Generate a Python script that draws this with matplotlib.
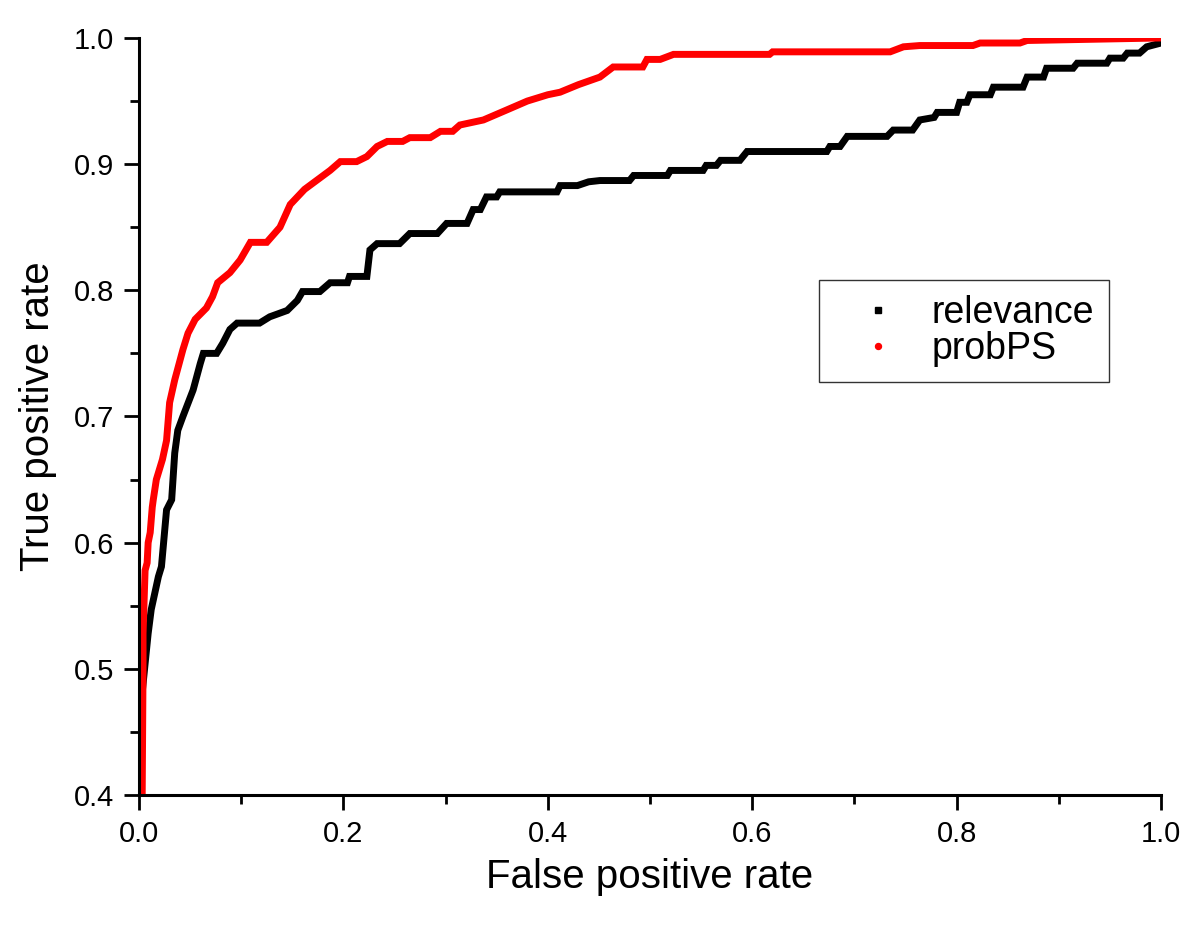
import matplotlib
matplotlib.use("Agg")
import matplotlib.pyplot as plt
from matplotlib.lines import Line2D
from matplotlib.ticker import MultipleLocator, FormatStrFormatter

plt.rcParams['font.family'] = ['Liberation Sans', 'DejaVu Sans']

# ROC points (false positive rate, true positive rate)
relevance_fpr = [0.000, 0.003, 0.008, 0.009, 0.012, 0.019, 0.022, 0.027, 0.032,
                 0.035, 0.038, 0.043, 0.053, 0.060, 0.063, 0.076, 0.082, 0.089,
                 0.096, 0.118, 0.128, 0.145, 0.155, 0.160, 0.177, 0.187, 0.204,
                 0.206, 0.223, 0.226, 0.233, 0.255, 0.265, 0.292, 0.301, 0.321,
                 0.327, 0.334, 0.340, 0.350, 0.353, 0.409, 0.412, 0.429, 0.440,
                 0.451, 0.480, 0.484, 0.517, 0.520, 0.552, 0.555, 0.565, 0.569,
                 0.588, 0.595, 0.673, 0.676, 0.686, 0.693, 0.732, 0.738, 0.757,
                 0.764, 0.778, 0.781, 0.800, 0.803, 0.810, 0.813, 0.833, 0.836,
                 0.865, 0.869, 0.885, 0.888, 0.914, 0.918, 0.947, 0.950, 0.963,
                 0.967, 0.979, 0.986, 1.000]
relevance_tpr = [0.400, 0.480, 0.520, 0.528, 0.547, 0.573, 0.581, 0.626, 0.634,
                 0.671, 0.689, 0.700, 0.721, 0.742, 0.750, 0.750, 0.758, 0.769,
                 0.774, 0.774, 0.779, 0.784, 0.792, 0.799, 0.799, 0.806, 0.806,
                 0.811, 0.811, 0.832, 0.837, 0.837, 0.845, 0.845, 0.853, 0.853,
                 0.864, 0.864, 0.874, 0.874, 0.878, 0.878, 0.883, 0.883, 0.886,
                 0.887, 0.887, 0.891, 0.891, 0.895, 0.895, 0.899, 0.899, 0.903,
                 0.903, 0.910, 0.910, 0.914, 0.914, 0.922, 0.922, 0.927, 0.927,
                 0.935, 0.937, 0.941, 0.941, 0.949, 0.949, 0.955, 0.955, 0.961,
                 0.961, 0.969, 0.969, 0.976, 0.976, 0.980, 0.980, 0.984, 0.984,
                 0.988, 0.988, 0.993, 0.996]

probps_fpr = [0.003, 0.004, 0.004, 0.006, 0.008, 0.009, 0.011, 0.013, 0.014,
              0.017, 0.023, 0.027, 0.030, 0.035, 0.043, 0.048, 0.055, 0.066,
              0.072, 0.077, 0.089, 0.099, 0.109, 0.125, 0.138, 0.148, 0.162,
              0.177, 0.187, 0.197, 0.213, 0.223, 0.233, 0.243, 0.258, 0.265,
              0.285, 0.295, 0.307, 0.314, 0.337, 0.360, 0.380, 0.400, 0.412,
              0.430, 0.451, 0.464, 0.493, 0.497, 0.510, 0.523, 0.617, 0.620,
              0.735, 0.748, 0.764, 0.816, 0.823, 0.862, 0.869, 1.000]
probps_tpr = [0.380, 0.501, 0.528, 0.578, 0.584, 0.600, 0.608, 0.628, 0.634,
              0.650, 0.666, 0.681, 0.711, 0.729, 0.753, 0.766, 0.777, 0.786,
              0.795, 0.806, 0.814, 0.824, 0.838, 0.838, 0.850, 0.868, 0.880,
              0.889, 0.895, 0.902, 0.902, 0.906, 0.914, 0.918, 0.918, 0.921,
              0.921, 0.926, 0.926, 0.931, 0.935, 0.943, 0.950, 0.955, 0.957,
              0.963, 0.969, 0.977, 0.977, 0.983, 0.983, 0.987, 0.987, 0.989,
              0.989, 0.993, 0.994, 0.994, 0.996, 0.996, 0.998, 1.000]

fig = plt.figure(figsize=(12, 9.26), dpi=100)
ax = fig.add_axes([0.1158, 0.1415, 0.8517, 0.8175])

ax.plot(relevance_fpr, relevance_tpr, color='black', lw=5,
        solid_joinstyle='miter')
ax.plot(probps_fpr, probps_tpr, color='#ff0000', lw=5,
        solid_joinstyle='miter')

ax.set_xlim(0, 1.0)
ax.set_ylim(0.4, 1.0)
ax.xaxis.set_major_locator(MultipleLocator(0.2))
ax.xaxis.set_minor_locator(MultipleLocator(0.1))
ax.yaxis.set_major_locator(MultipleLocator(0.1))
ax.yaxis.set_minor_locator(MultipleLocator(0.05))
ax.xaxis.set_major_formatter(FormatStrFormatter('%.1f'))
ax.yaxis.set_major_formatter(FormatStrFormatter('%.1f'))

for s in ['top', 'right']:
    ax.spines[s].set_visible(False)
for s in ['left', 'bottom']:
    ax.spines[s].set_linewidth(2.2)

ax.tick_params(which='major', direction='out', length=11, width=2,
               labelsize=21, pad=7)
ax.tick_params(which='minor', direction='out', length=6.5, width=2)

ax.set_xlabel('False positive rate', fontsize=29, labelpad=7)
ax.set_ylabel('True positive rate', fontsize=29, labelpad=12)

handles = [Line2D([], [], ls='none', marker='s', ms=4.3, color='black'),
           Line2D([], [], ls='none', marker='o', ms=4.3, color='#ff0000')]
leg = ax.legend(handles, ['relevance', 'probPS'], loc='upper left',
                bbox_to_anchor=(0.665, 0.68), fontsize=27, frameon=True,
                fancybox=False, edgecolor='black', handlelength=2.35,
                handletextpad=0.27, labelspacing=0.0, borderpad=0.4,
                borderaxespad=0)
leg.get_frame().set_linewidth(1.0)

fig.savefig('out.png', dpi=100)
